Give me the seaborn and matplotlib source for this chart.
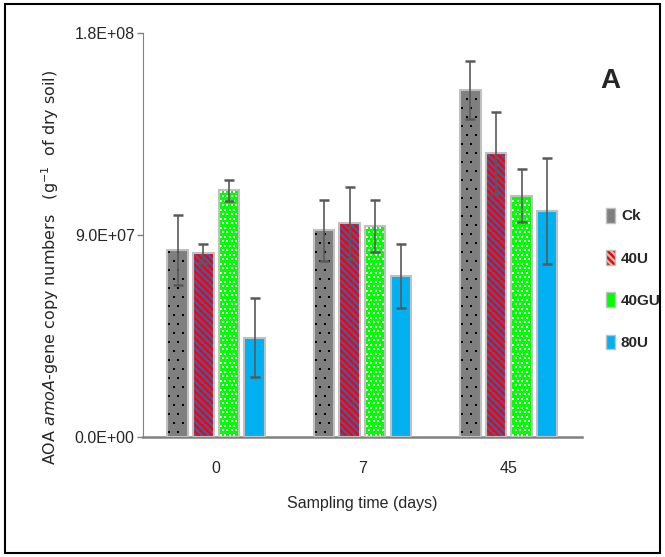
import pandas as pd
import numpy as np
import matplotlib
matplotlib.use('Agg')
import matplotlib.pyplot as plt
from matplotlib.patches import Rectangle
import seaborn as sns

# Values
days = ['0', '7', '45']
treatments = ['Ck', '40U', '40GU', '80U']
ck = [8.32e7, 9.21e7, 1.545e8]
u40 = [8.17e7, 9.52e7, 1.264e8]
gu40 = [1.099e8, 9.39e7, 1.073e8]
u80 = [4.41e7, 7.17e7, 1.006e8]
ck_err = [1.56e7, 1.36e7, 1.30e7]
u40_err = [4.4e6, 1.60e7, 1.81e7]
gu40_err = [4.7e6, 1.15e7, 1.18e7]
u80_err = [1.76e7, 1.43e7, 2.37e7]
yticks = [0, 9.0e7, 1.8e8]
ytick_labels = ['0.0E+00', '9.0E+07', '1.8E+08']

values = {'Ck': ck, '40U': u40, '40GU': gu40, '80U': u80}
errors = {'Ck': ck_err, '40U': u40_err, '40GU': gu40_err, '80U': u80_err}
colors = {'Ck': '#7f7f7f', '40U': '#ff0000', '40GU': '#00ff00', '80U': '#00b0f0'}
hatches = {'Ck': '', '40U': '\\\\\\\\\\', '40GU': '', '80U': ''}
hatch_colors = {'Ck': '#7f7f7f', '40U': '#3a5fb0', '40GU': '#00ff00', '80U': '#00b0f0'}
# dotted texture (pixel spacing, dot size, colour)
dots = {'Ck': (9, 2.5, 'black'), '40GU': (4.5, 1.6, 'white')}

rows = []
for t in treatments:
    for d, v in zip(days, values[t]):
        rows.append({'day': d, 'treatment': t, 'value': v})
df = pd.DataFrame(rows)

sns.set_style('white')
sans = ['Liberation Sans', 'DejaVu Sans']
plt.rcParams['hatch.linewidth'] = 1.6

fig = plt.figure(figsize=(6.65, 5.57), dpi=100)
ax = fig.add_axes([0.215, 0.2155, 0.66, 0.726])

sns.barplot(data=df, x='day', y='value', hue='treatment', order=days,
            hue_order=treatments, palette=colors, saturation=1,
            errorbar=None, width=0.7, gap=0.2, legend=False, ax=ax)

ax.set_ylim(0, 1.8e8)
ax.set_xlim(-0.5, 2.5)
fig.canvas.draw()
to_px = ax.transData
to_data = ax.transData.inverted()

for t, cont in zip(treatments, ax.containers):
    for i, p in enumerate(cont.patches):
        p.set_hatch(hatches[t])
        p.set_edgecolor(hatch_colors[t])
        p.set_linewidth(0)
        if t in dots:
            step, size, dc = dots[t]
            (x0, y0) = to_px.transform((p.get_x(), 0))
            (x1, y1) = to_px.transform((p.get_x() + p.get_width(), p.get_height()))
            pts = []
            for j, yy in enumerate(np.arange(y0 + step / 2, y1 - 1, step)):
                off = step / 2 if j % 2 else 0
                for xx in np.arange(x0 + 2 + off, x1 - 1, step):
                    pts.append(to_data.transform((xx, yy)))
            pts = np.array(pts)
            ax.scatter(pts[:, 0], pts[:, 1], s=size, color=dc, marker='s',
                       linewidths=0, zorder=2.5)
        ax.add_patch(Rectangle((p.get_x(), p.get_y()), p.get_width(), p.get_height(),
                               fill=False, edgecolor='#c0c0c0', lw=1.5, zorder=3))
        ax.errorbar(p.get_x() + p.get_width() / 2, p.get_height(), yerr=errors[t][i],
                    fmt='none', ecolor='#595959', elinewidth=1.2, capsize=3.5,
                    capthick=1.8, zorder=4)

ax.set_ylim(0, 1.8e8)
ax.set_yticks(yticks)
ax.set_yticklabels(ytick_labels, fontfamily=sans, fontsize=11.5)
for lbl in ax.get_xticklabels():
    lbl.set_fontfamily(sans)
    lbl.set_fontsize(11.5)
ax.tick_params(axis='y', left=True, length=4, width=1, color='#808080', pad=2)
ax.tick_params(axis='x', bottom=False, pad=14)

for s in ['top', 'right']:
    ax.spines[s].set_visible(False)
ax.spines['left'].set_color('#808080')
ax.spines['bottom'].set_color('#808080')
ax.spines['bottom'].set_linewidth(1.8)

ax.set_xlabel('Sampling time (days)', fontfamily=sans, fontsize=11.5, labelpad=14)
ax.set_ylabel(r'AOA $\it{amoA}$-gene copy numbers   (g$^{-1}$  of dry soil)',
              fontsize=11.5)
ax.yaxis.set_label_coords(-0.187, 0.42)

handles = [Rectangle((0, 0), 1, 1, facecolor=colors[t], hatch=hatches[t],
                     edgecolor='#c0c0c0', lw=1) for t in treatments]
leg = fig.legend(handles, treatments, loc='center left', bbox_to_anchor=(0.89, 0.499),
                 frameon=False, handlelength=0.6, handleheight=1.1, labelspacing=1.75,
                 handletextpad=0.4, prop={'family': sans, 'weight': 'bold', 'size': 11})

fig.text(0.918, 0.855, 'A', fontsize=20, fontweight='bold', fontfamily=sans,
         ha='center', va='center')

fig.patches.append(Rectangle((0.008, 0.007), 0.985, 0.985, transform=fig.transFigure,
                             fill=False, edgecolor='black', lw=1.5))

fig.savefig('out.png', dpi=100)
plt.close(fig)
